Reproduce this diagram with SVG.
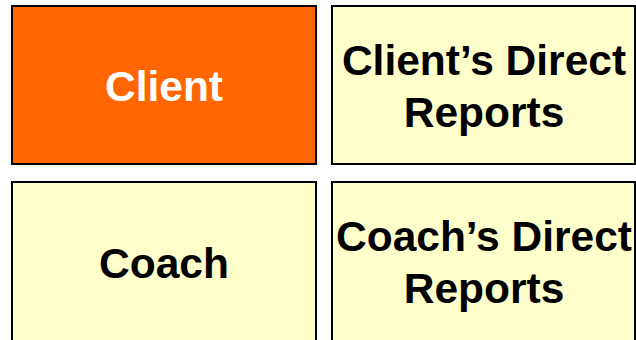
<svg xmlns="http://www.w3.org/2000/svg" width="636" height="340" viewBox="0 0 636 340">
  <style>
    .box { stroke: #000; stroke-width: 2; }
    .hot { fill: #FF6600; }
    .pale { fill: #FFFFCC; }
    .lbl { font-family: "Liberation Sans", Arial, sans-serif; font-weight: bold; font-size: 42.5px; text-anchor: middle; fill: #000; }
    .inv { fill: #FFFFFF; }
  </style>
  <rect width="636" height="340" fill="#FFFFFF"/>
  <g id="client">
    <rect class="box hot" x="12" y="6" width="304" height="158"/>
    <text class="lbl inv" x="164" y="101">Client</text>
  </g>
  <g id="client-direct-reports">
    <rect class="box pale" x="332" y="6" width="303" height="158"/>
    <text class="lbl" x="484" y="75">Client’s Direct</text>
    <text class="lbl" x="484" y="127">Reports</text>
  </g>
  <g id="coach">
    <rect class="box pale" x="12" y="182" width="304" height="170"/>
    <text class="lbl" x="164" y="278">Coach</text>
  </g>
  <g id="coach-direct-reports">
    <rect class="box pale" x="332" y="182" width="303" height="170"/>
    <text class="lbl" x="484" y="251">Coach’s Direct</text>
    <text class="lbl" x="484" y="303">Reports</text>
  </g>
  <g id="connectors"></g>
</svg>
